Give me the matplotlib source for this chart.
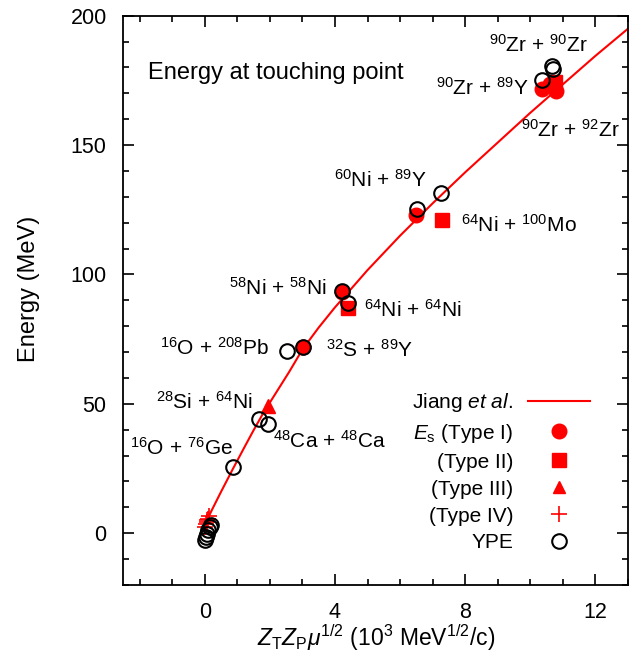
import matplotlib
matplotlib.use('Agg')
import matplotlib.pyplot as plt
from matplotlib.lines import Line2D
from matplotlib.ticker import MultipleLocator

plt.rcParams['font.family'] = ['Liberation Sans', 'DejaVu Sans']
plt.rcParams['mathtext.fontset'] = 'custom'
plt.rcParams['mathtext.rm'] = 'Liberation Sans'
plt.rcParams['mathtext.it'] = 'Liberation Sans:italic'

# Jiang et al. curve
jiang_x = [0.05, 0.1, 0.2, 0.5, 0.87, 1.2, 1.5, 1.8, 2.2, 2.6, 3.0, 3.5, 4.0, 4.5, 5.0,
           6.0, 7.0, 8.0, 9.0, 10.0, 11.0, 12.0, 13.0]
jiang_y = [4, 5.8, 8.5, 16, 25, 32.8, 39.8, 46.5, 54.5, 62.5, 71.0, 79.5, 87.3, 94.5, 101.7,
           115, 127.5, 139.5, 151, 162.5, 173.5, 184.5, 195]

# E_s values
type1_x = [10.35, 10.8, 10.6, 6.49, 4.21, 3.03]
type1_y = [171.5, 171.0, 173.5, 123.0, 93.4, 71.9]
type2_x = [10.75, 7.29, 4.41]
type2_y = [174.5, 121.1, 87.0]
type3_x = [1.94]
type3_y = [49.0]
type4_x = [0.02, 0.05, 0.08, 0.1, 0.13, 0.06]
type4_y = [2.5, 3.5, 4.5, 5.5, 6.5, 5.0]

# YPE
ype_x = [10.7, 10.65, 10.35, 7.27, 6.52, 4.23, 4.41, 3.03, 2.52, 1.68, 1.94, 0.87,
         0.15, 0.1, 0.06, 0.04, 0.02, 0.2]
ype_y = [179.4, 180.4, 175.2, 131.5, 125.2, 93.8, 88.9, 71.9, 70.6, 44.1, 42.3, 25.7,
         2.6, 1.2, -0.3, -1.6, -2.8, 3.2]

labels = ['$^{90}$Zr + $^{90}$Zr', '$^{90}$Zr + $^{89}$Y', '$^{90}$Zr + $^{92}$Zr',
          '$^{60}$Ni + $^{89}$Y', '$^{64}$Ni + $^{100}$Mo', '$^{58}$Ni + $^{58}$Ni',
          '$^{64}$Ni + $^{64}$Ni', '$^{16}$O + $^{208}$Pb', '$^{32}$S + $^{89}$Y',
          '$^{28}$Si + $^{64}$Ni', '$^{48}$Ca + $^{48}$Ca', '$^{16}$O + $^{76}$Ge']
label_x = [8.72, 7.09, 9.72, 3.98, 7.86, 0.76, 4.89, -1.38, 3.73, -1.5, 2.11, -2.29]
label_y = [188.7, 172.1, 155.9, 136.6, 119.2, 94.8, 86.3, 71.6, 70.9, 50.8, 35.7, 33.0]

red = '#ff0000'
fs_ann = 15
fs_big = 17

fig = plt.figure(figsize=(6.38, 6.62), dpi=100)
ax = fig.add_axes([0.1933, 0.1163, 0.7911, 0.8600])

ax.plot(jiang_x, jiang_y, color=red, lw=1.5, zorder=2)
ax.plot(type1_x, type1_y, 'o', color=red, ms=10.5, mec=red, zorder=3)
ax.plot(type2_x, type2_y, 's', color=red, ms=10, mec=red, zorder=3)
ax.plot(type3_x, type3_y, '^', color=red, ms=10, mec=red, zorder=3)
ax.plot(type4_x, type4_y, '+', color=red, ms=11, mew=1.2, zorder=3)
ax.plot(ype_x, ype_y, 'o', mfc='none', mec='black', ms=10.5, mew=1.5, zorder=4)

for t, x, y in zip(labels, label_x, label_y):
    ax.text(x, y, t, fontsize=fs_ann, ha='left', va='center')

ax.text(-1.74, 178, 'Energy at touching point', fontsize=fs_big, ha='left', va='center')

handles = [
    Line2D([], [], color=red, lw=1.5),
    Line2D([], [], ls='none', marker='o', color=red, ms=10.5),
    Line2D([], [], ls='none', marker='s', color=red, ms=10),
    Line2D([], [], ls='none', marker='^', color=red, ms=9),
    Line2D([], [], ls='none', marker='+', color=red, ms=12, mew=1.2),
    Line2D([], [], ls='none', marker='o', mfc='none', mec='black', ms=10.5, mew=1.5),
]
names = [r'Jiang $\it{et\ al.}$', r'$E_{\rm s}$ (Type I)', '(Type II)', '(Type III)', '(Type IV)', 'YPE']
leg = ax.legend(handles, names, loc='upper right', bbox_to_anchor=(0.925, 0.341),
                frameon=False, markerfirst=False, fontsize=15, handlelength=3.0,
                handletextpad=0.7, labelspacing=0.38, borderpad=0, borderaxespad=0)
for t in leg.get_texts():
    t.set_ha('right')

ax.set_xlim(-2.5, 13)
ax.set_ylim(-20, 200)
ax.xaxis.set_major_locator(MultipleLocator(4))
ax.xaxis.set_minor_locator(MultipleLocator(1))
ax.yaxis.set_major_locator(MultipleLocator(50))
ax.yaxis.set_minor_locator(MultipleLocator(10))
ax.tick_params(which='both', direction='in', top=True, right=True, labelsize=15.5, width=1.2)
ax.tick_params(which='major', length=8, pad=12)
ax.tick_params(which='minor', length=4)
for s in ax.spines.values():
    s.set_linewidth(1.3)

ax.set_xlabel(r'$Z_{\rm T}Z_{\rm P}\mu^{1/2}$ (10$^3$ MeV$^{1/2}$/c)', fontsize=16.5, labelpad=0)
ax.set_ylabel('Energy (MeV)', fontsize=fs_big)
ax.yaxis.set_label_coords(-0.165, 0.52)

fig.savefig('out.png', dpi=100)
